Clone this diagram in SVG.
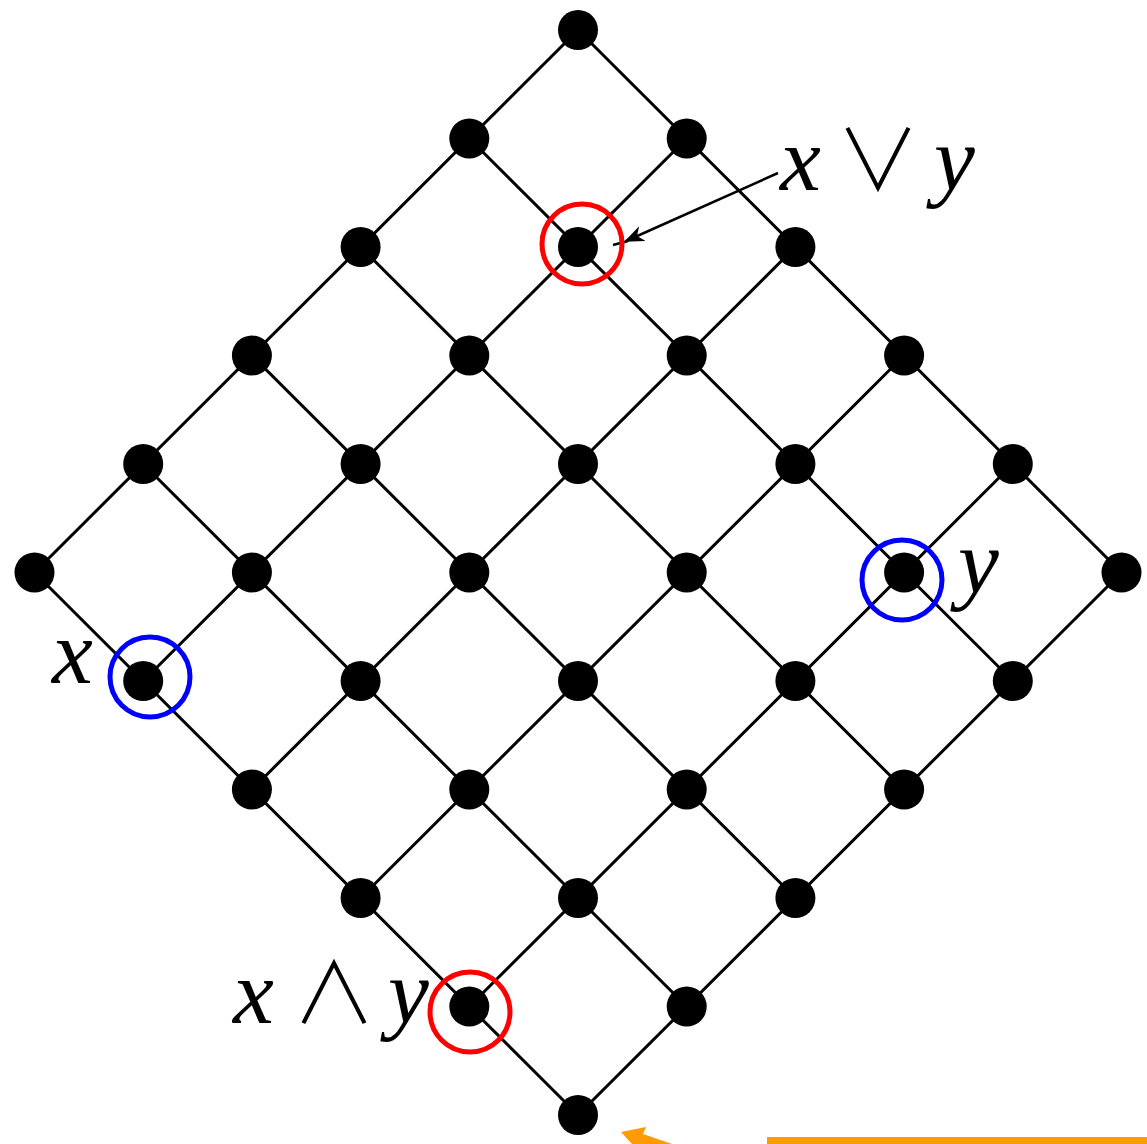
<svg xmlns="http://www.w3.org/2000/svg" width="1147" height="1144" viewBox="0 0 1147 1144">
<style>
.edge{stroke:#000;stroke-width:3;fill:none}
.dot{fill:#000}
.lbl{font-family:"Liberation Serif","DejaVu Serif",serif;font-style:italic;font-size:92px;fill:#000}
.op{font-family:"Noto Sans CJK JP","DejaVu Sans",sans-serif;font-style:normal;font-weight:300;font-size:84px}
.red{fill:none;stroke:#ff0000;stroke-width:5}
.blue{fill:none;stroke:#0000ff;stroke-width:5}
</style>
<defs>
<marker id="ah" viewBox="0 0 10 10" refX="9" refY="5" markerWidth="8" markerHeight="8" markerUnits="strokeWidth" orient="auto">
<path d="M0,1 L10,5 L0,9 L3,5 z" fill="#000"/>
</marker>
</defs>
<rect width="1147" height="1144" fill="#fff"/>
<g id="connectors">
<line class="edge" x1="578" y1="30" x2="1121.5" y2="572.5"/>
<line class="edge" x1="469.3" y1="138.5" x2="1012.8" y2="681"/>
<line class="edge" x1="360.6" y1="247" x2="904.1" y2="789.5"/>
<line class="edge" x1="251.9" y1="355.5" x2="795.4" y2="898"/>
<line class="edge" x1="143.2" y1="464" x2="686.7" y2="1006.5"/>
<line class="edge" x1="34.5" y1="572.5" x2="578" y2="1115"/>
<line class="edge" x1="578" y1="30" x2="34.5" y2="572.5"/>
<line class="edge" x1="686.7" y1="138.5" x2="143.2" y2="681"/>
<line class="edge" x1="795.4" y1="247" x2="251.9" y2="789.5"/>
<line class="edge" x1="904.1" y1="355.5" x2="360.6" y2="898"/>
<line class="edge" x1="1012.8" y1="464" x2="469.3" y2="1006.5"/>
<line class="edge" x1="1121.5" y1="572.5" x2="578" y2="1115"/>
<line x1="778" y1="173" x2="626" y2="241" stroke="#000" stroke-width="2.5" marker-end="url(#ah)"/>
<line x1="628" y1="241" x2="613" y2="245" stroke="#000" stroke-width="2.5"/>
</g>
<g id="nodes">
<g id="n0"><circle class="dot" cx="578" cy="30" r="20"/></g>
<g id="n1a"><circle class="dot" cx="469.3" cy="138.5" r="20"/></g>
<g id="n1b"><circle class="dot" cx="686.7" cy="138.5" r="20"/></g>
<g id="n2a"><circle class="dot" cx="360.6" cy="247" r="20"/></g>
<g id="n2b"><circle class="dot" cx="578" cy="247" r="20"/></g>
<g id="n2c"><circle class="dot" cx="795.4" cy="247" r="20"/></g>
<g id="n3a"><circle class="dot" cx="251.9" cy="355.5" r="20"/></g>
<g id="n3b"><circle class="dot" cx="469.3" cy="355.5" r="20"/></g>
<g id="n3c"><circle class="dot" cx="686.7" cy="355.5" r="20"/></g>
<g id="n3d"><circle class="dot" cx="904.1" cy="355.5" r="20"/></g>
<g id="n4a"><circle class="dot" cx="143.2" cy="464" r="20"/></g>
<g id="n4b"><circle class="dot" cx="360.6" cy="464" r="20"/></g>
<g id="n4c"><circle class="dot" cx="578" cy="464" r="20"/></g>
<g id="n4d"><circle class="dot" cx="795.4" cy="464" r="20"/></g>
<g id="n4e"><circle class="dot" cx="1012.8" cy="464" r="20"/></g>
<g id="n5a"><circle class="dot" cx="34.5" cy="572.5" r="20"/></g>
<g id="n5b"><circle class="dot" cx="251.9" cy="572.5" r="20"/></g>
<g id="n5c"><circle class="dot" cx="469.3" cy="572.5" r="20"/></g>
<g id="n5d"><circle class="dot" cx="686.7" cy="572.5" r="20"/></g>
<g id="n5e"><circle class="dot" cx="904.1" cy="572.5" r="20"/></g>
<g id="n5f"><circle class="dot" cx="1121.5" cy="572.5" r="20"/></g>
<g id="n6a"><circle class="dot" cx="143.2" cy="681" r="20"/></g>
<g id="n6b"><circle class="dot" cx="360.6" cy="681" r="20"/></g>
<g id="n6c"><circle class="dot" cx="578" cy="681" r="20"/></g>
<g id="n6d"><circle class="dot" cx="795.4" cy="681" r="20"/></g>
<g id="n6e"><circle class="dot" cx="1012.8" cy="681" r="20"/></g>
<g id="n7a"><circle class="dot" cx="251.9" cy="789.5" r="20"/></g>
<g id="n7b"><circle class="dot" cx="469.3" cy="789.5" r="20"/></g>
<g id="n7c"><circle class="dot" cx="686.7" cy="789.5" r="20"/></g>
<g id="n7d"><circle class="dot" cx="904.1" cy="789.5" r="20"/></g>
<g id="n8a"><circle class="dot" cx="360.6" cy="898" r="20"/></g>
<g id="n8b"><circle class="dot" cx="578" cy="898" r="20"/></g>
<g id="n8c"><circle class="dot" cx="795.4" cy="898" r="20"/></g>
<g id="n9a"><circle class="dot" cx="469.3" cy="1006.5" r="20"/></g>
<g id="n9b"><circle class="dot" cx="686.7" cy="1006.5" r="20"/></g>
<g id="n10"><circle class="dot" cx="578" cy="1115" r="20"/></g>
</g>
<g id="highlights">
<circle class="red" cx="582" cy="244" r="40"/>
<circle class="red" cx="470" cy="1012" r="40"/>
<circle class="blue" cx="150" cy="677" r="40"/>
<circle class="blue" cx="902" cy="580" r="40"/>
</g>
<g id="labels">
<text class="lbl" y="190"><tspan x="780">x</tspan><tspan class="op" x="836">∨</tspan><tspan x="934">y</tspan></text>
<text class="lbl" y="1023"><tspan x="233">x</tspan><tspan class="op" x="292">∧</tspan><tspan x="388">y</tspan></text>
<text class="lbl" x="52" y="683">x</text>
<text class="lbl" x="958" y="593">y</text>
</g>
<g id="orange">
<rect x="767" y="1137" width="380" height="10" fill="#ff9a00"/>
<polygon points="621,1132 646,1127 643,1134 672,1144 632,1144" fill="#ff9a00"/>
</g>
</svg>
